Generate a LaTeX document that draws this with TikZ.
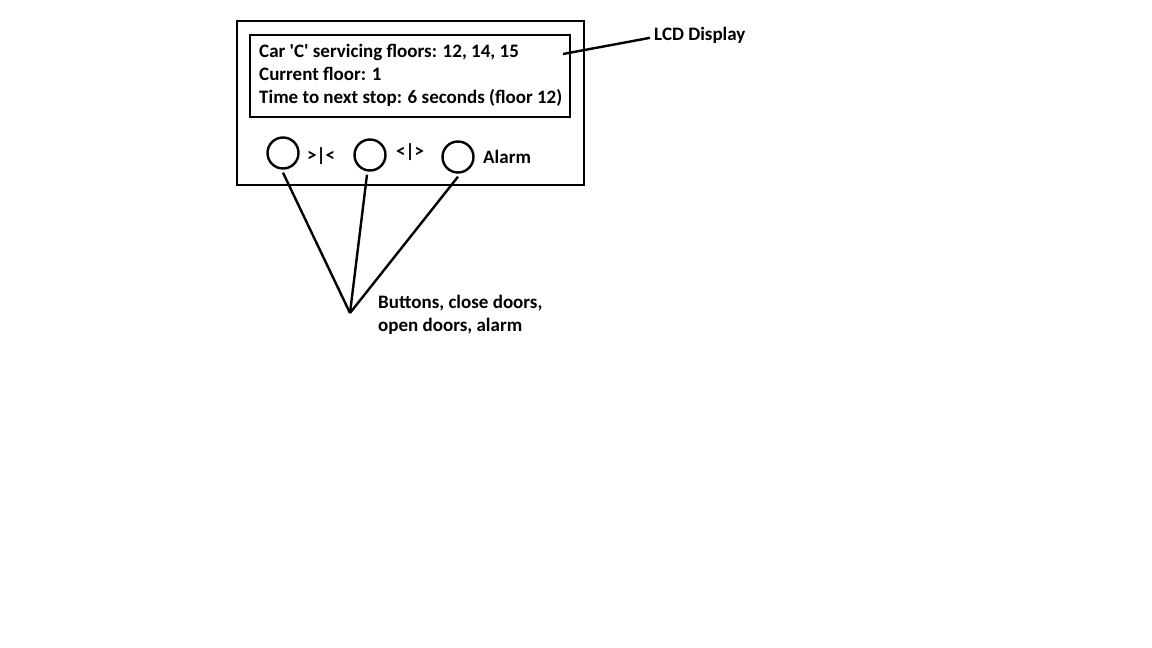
\documentclass[tikz,border=0pt]{standalone}
\usepackage{fontspec}
\setmainfont{Carlito}[Ligatures=TeXOff]
\usepackage{tikz}

\begin{document}
\begin{tikzpicture}[x=1pt,y=-1pt,
	lbl/.style={font=\bfseries\fontsize{19}{23}\selectfont,inner sep=0pt,anchor=base west},
	box/.style={draw,line width=2.6pt,inner sep=0pt},
	btn/.style={draw,circle,line width=2.4pt,minimum size=31pt,inner sep=0pt},
	wire/.style={line width=2.4pt}]
	\useasboundingbox[fill=white] (0,0) rectangle (1152,648);
	% Gehäuse und Anzeige
	\node[box,minimum width=347pt,minimum height=164pt] (panel) at (410.5,103) {};
	\node[box,minimum width=320pt,minimum height=82pt] (screen) at (410,76) {};
	\node[lbl,align=left] (status) at (259,103) {Car 'C' servicing floors: 12, 14, 15\\Current floor: 1\\Time to next stop: 6 seconds (floor 12)};
	\node[lbl] (lcd) at (654,40) {LCD Display};
	\coordinate (lcdtip) at (563,54);
	\draw[wire] (lcdtip) -- ([xshift=-4pt,yshift=-3pt]lcd.west);
	% Tasten
	\node[btn] (close) at (283,153) {};
	\node[btn] (open) at (370,155) {};
	\node[btn] (alarm) at (458,157) {};
	\node[lbl] (closetxt) at (307,161.5) {>|<};
	\node[lbl] (opentxt) at (396,157) {<|>};
	\node[lbl] (alarmtxt) at (483,163) {Alarm};
	% Hinweis
	\coordinate (meet) at (350,313);
	\foreach \b/\dx in {close/0,open/-3,alarm/0}
		\draw[wire] ([xshift=\dx pt,yshift=-3pt]\b.south) -- (meet);
	\node[lbl,align=left] (btntxt) at (378,331) {Buttons, close doors,\\open doors, alarm};
\end{tikzpicture}
\end{document}
